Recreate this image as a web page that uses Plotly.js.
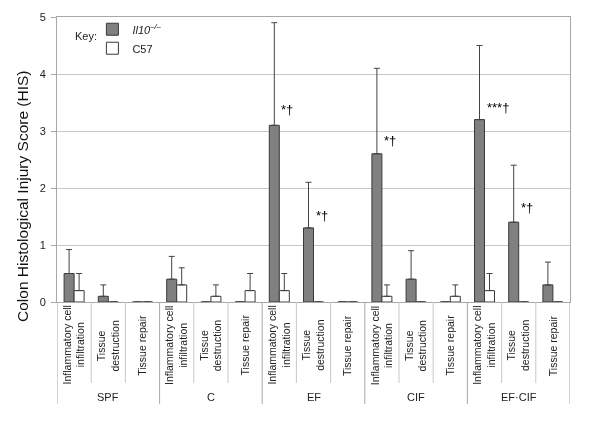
<!DOCTYPE html>
<html>
<head>
<meta charset="utf-8">
<script src="https://cdn.plot.ly/plotly-3.0.1.min.js"></script>
<style>
body{margin:0;background:#fff}
#his{width:600px;height:424px}
/* grayscale text smoothing, avoids coloured fringes on the thin daggers */
#his .main-svg{will-change:transform}
</style>
</head>
<body>
<div id="his"></div>
<script>
var groups = ['SPF', 'C', 'EF', 'CIF', 'EF\u00b7CIF'];
var measures = ['Inflammatory cell<br>infiltration', 'Tissue<br>destruction', 'Tissue repair'];

// one value per group x measure, in that order
var il10Mean = [0.5, 0.1, 0, 0.4, 0, 0, 3.1, 1.3, 0, 2.6, 0.4, 0, 3.2, 1.4, 0.3];
var il10Err  = [0.42, 0.2, 0, 0.4, 0, 0, 1.8, 0.8, 0, 1.5, 0.5, 0, 1.3, 1.0, 0.4];
var c57Mean  = [0.2, 0, 0, 0.3, 0.1, 0.2, 0.2, 0, 0, 0.1, 0, 0.1, 0.2, 0, 0];
var c57Err   = [0.3, 0, 0, 0.3, 0.2, 0.3, 0.3, 0, 0, 0.2, 0, 0.2, 0.3, 0, 0];

var sigIdx  = [6, 7, 9, 12, 13];
var sigText = ['*\u2020', '*\u2020', '*\u2020', '***\u2020', '*\u2020'];
var sigY    = [3.37, 1.52, 2.84, 3.42, 1.65];

var xs = il10Mean.map(function(d, i) { return i; });
var zeros = il10Mean.map(function() { return 0; });
var font = '"Liberation Sans", Arial, sans-serif';

var trace1 = {
  x: xs, y: il10Mean, type: 'bar',
  name: '<i>Il10<sup>\u2013/\u2013</sup></i>',
  marker: {color: '#808080', line: {color: '#3a3a3a', width: 1}},
  error_y: {type: 'data', symmetric: false, array: il10Err, arrayminus: zeros,
            color: '#444', thickness: 1, width: 3}
};
var trace2 = {
  x: xs, y: c57Mean, type: 'bar',
  name: 'C57',
  marker: {color: '#ffffff', line: {color: '#3a3a3a', width: 1}},
  error_y: {type: 'data', symmetric: false, array: c57Err, arrayminus: zeros,
            color: '#444', thickness: 1, width: 3}
};

var annotations = [];
var shapes = [];
xs.forEach(function(i) {
  annotations.push({
    x: i, xref: 'x', y: -0.152, yref: 'paper',
    text: measures[i % 3], textangle: -90, showarrow: false,
    xanchor: 'center', yanchor: 'middle', align: 'center',
    font: {family: font, size: 10.5, color: '#222'}
  });
  if (i % 3 != 0) {
    shapes.push({type: 'line', xref: 'x', yref: 'paper', x0: i - 0.5, x1: i - 0.5,
                 y0: 0, y1: -0.284, line: {color: '#c8c8c8', width: 1}});
  }
});
groups.forEach(function(g, k) {
  annotations.push({
    x: k * 3 + 1, xref: 'x', y: -0.333, yref: 'paper', text: g, showarrow: false,
    xanchor: 'center', yanchor: 'middle', font: {family: font, size: 11, color: '#222'}
  });
  shapes.push({type: 'line', xref: 'x', yref: 'paper', x0: k * 3 - 0.5, x1: k * 3 - 0.5,
               y0: 0, y1: -0.358, line: {color: '#a8a8a8', width: 1}});
});
shapes.push({type: 'line', xref: 'x', yref: 'paper', x0: 14.5, x1: 14.5,
             y0: 0, y1: -0.358, line: {color: '#a8a8a8', width: 1}});
sigIdx.forEach(function(i, k) {
  annotations.push({
    x: i, xref: 'x', y: sigY[k], yref: 'y', text: sigText[k], showarrow: false,
    xanchor: 'left', yanchor: 'middle',
    font: {family: font, size: 13, color: 'black'}
  });
});
// "Key:" label beside the legend
annotations.push({
  x: (73 - 57) / 513, xref: 'paper', xanchor: 'left',
  y: (302 - 36) / 285, yref: 'paper', yanchor: 'middle', text: 'Key:',
  showarrow: false, font: {family: font, size: 11, color: '#222'}
});
// y title, centred on plot + category area as in the original
annotations.push({
  x: (22 - 57) / 513, xref: 'paper', xanchor: 'center',
  y: (302 - 196) / 285, yref: 'paper', yanchor: 'middle', textangle: -90,
  text: 'Colon Histological Injury Score (HIS)', showarrow: false,
  font: {family: font, size: 15.5, color: '#111'}
});

var layout = {
  width: 600, height: 424,
  margin: {l: 57, r: 30, t: 17, b: 122},
  paper_bgcolor: '#fff', plot_bgcolor: '#fff',
  font: {family: font, size: 11, color: '#222'},
  barmode: 'group', bargap: 0.415, bargroupgap: 0,
  showlegend: true,
  legend: {x: 0.069, xanchor: 'left', y: 1.008, yanchor: 'top', bgcolor: 'rgba(0,0,0,0)',
           font: {family: font, size: 11, color: '#222'}, tracegroupgap: 0, itemwidth: 30},
  xaxis: {range: [-0.5, 14.5], showticklabels: false, ticks: '', showgrid: false,
          zeroline: false, showline: true, mirror: true, linecolor: '#a8a8a8', linewidth: 1},
  yaxis: {range: [0, 5], dtick: 1, showgrid: true, gridcolor: '#c8c8c8', zeroline: false,
          showline: true, mirror: true, linecolor: '#a8a8a8', linewidth: 1,
          ticks: 'outside', ticklen: 5, tickcolor: '#a8a8a8', ticklabelstandoff: 3,
          tickfont: {family: font, size: 11, color: '#222'}},
  annotations: annotations,
  shapes: shapes
};

Plotly.newPlot('his', [trace1, trace2], layout, {displayModeBar: false, staticPlot: true});
</script>
</body>
</html>
